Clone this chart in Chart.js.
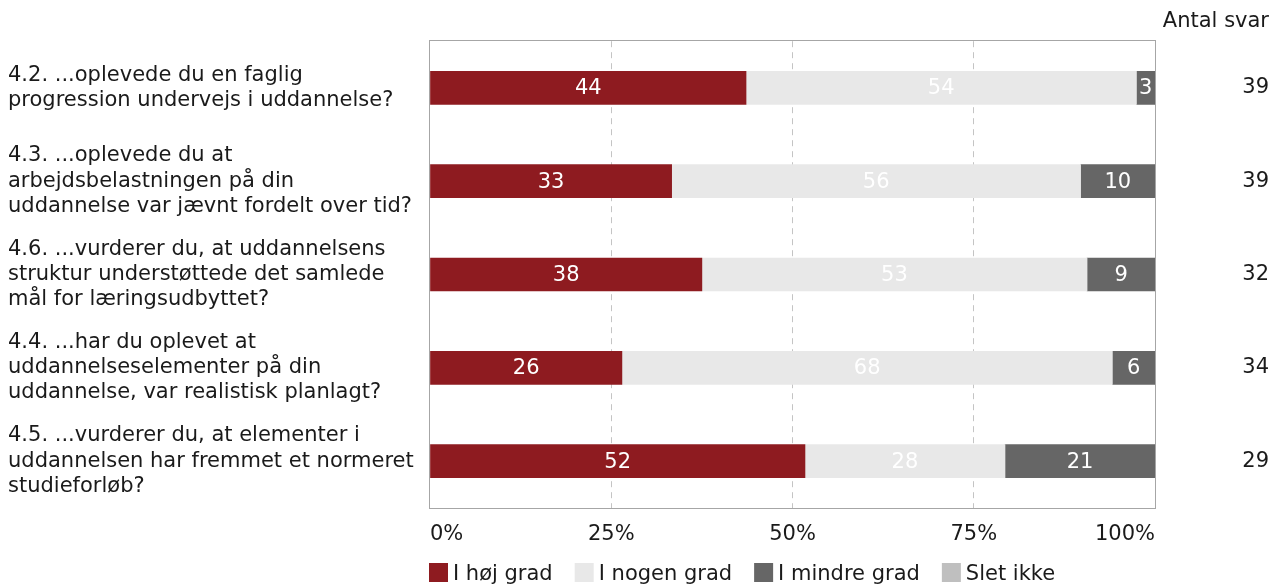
<!DOCTYPE html>
<html lang="da">
<head>
<meta charset="UTF-8">
<title>Studieforløb</title>
<script src="https://cdn.jsdelivr.net/npm/chart.js"></script>
<style>
  html, body { margin: 0; padding: 0; background: #fff; overflow: hidden; }
</style>
</head>
<body>
<canvas id="chart" width="1276" height="584"></canvas>
<script>
const questions = [
  ["4.2. ...oplevede du en faglig", "progression undervejs i uddannelse?"],
  ["4.3. ...oplevede du at", "arbejdsbelastningen på din", "uddannelse var jævnt fordelt over tid?"],
  ["4.6. ...vurderer du, at uddannelsens", "struktur understøttede det samlede", "mål for læringsudbyttet?"],
  ["4.4. ...har du oplevet at", "uddannelseselementer på din", "uddannelse, var realistisk planlagt?"],
  ["4.5. ...vurderer du, at elementer i", "uddannelsen har fremmet et normeret", "studieforløb?"]
];
const hoejGrad   = [43.59, 33.33, 37.5, 26.47, 51.72];
const nogenGrad  = [53.85, 56.41, 53.13, 67.65, 27.59];
const mindreGrad = [2.56, 10.26, 9.38, 5.88, 20.69];
const sletIkke   = [0, 0, 0, 0, 0];
const antalSvar  = ["39", "39", "32", "34", "29"];
const xTicks     = [0, 25, 50, 75, 100];

const FONT = "'DejaVu Sans', Verdana, sans-serif";
const SIZE = 21;
const TEXT = "#1a1a1a";

const barLabels = {
  id: 'barLabels',
  afterDatasetsDraw(chart) {
    const { ctx, chartArea: a } = chart;
    // plot frame
    ctx.save();
    ctx.strokeStyle = "#a6a6a6";
    ctx.lineWidth = 1;
    ctx.strokeRect(Math.round(a.left) - 0.5, Math.round(a.top) - 0.5, Math.round(a.right - a.left) + 1, Math.round(a.bottom - a.top) + 1);
    // values in bars
    ctx.font = SIZE + "px " + FONT;
    ctx.fillStyle = "#fff";
    ctx.textAlign = "center";
    ctx.textBaseline = "middle";
    chart.data.datasets.forEach((ds, i) => {
      chart.getDatasetMeta(i).data.forEach((bar, j) => {
        const v = ds.data[j];
        if (!v) return;
        ctx.fillText(Math.round(v), (bar.x + bar.base) / 2, bar.y + 1);
      });
    });
    ctx.restore();
  },
  afterDraw(chart) {
    const { ctx, chartArea: a } = chart;
    ctx.save();
    ctx.font = SIZE + "px " + FONT;
    ctx.textBaseline = "middle";
    ctx.textAlign = "left";
    let x = a.left - 1;
    const top = 563, box = 19;
    chart.data.datasets.forEach(ds => {
      ctx.fillStyle = ds.backgroundColor;
      ctx.fillRect(x, top, box, box);
      ctx.fillStyle = TEXT;
      ctx.fillText(ds.label, x + box + 5, top + box / 2 + 2);
      x += box + 5 + ctx.measureText(ds.label).width + 22;
    });
    ctx.restore();
  }
};

new Chart(document.getElementById("chart"), {
  type: 'bar',
  data: {
    labels: questions,
    datasets: [
      { label: "I høj grad", data: hoejGrad, backgroundColor: "#8e1b20" },
      { label: "I nogen grad", data: nogenGrad, backgroundColor: "#e8e8e8" },
      { label: "I mindre grad", data: mindreGrad, backgroundColor: "#666666" },
      { label: "Slet ikke", data: sletIkke, backgroundColor: "#bfbfbf" }
    ]
  },
  options: {
    indexAxis: 'y',
    responsive: false,
    animation: false,
    barThickness: 33,
    layout: { padding: { left: 8, right: 7, top: 0, bottom: 23 } },
    plugins: {
      legend: { display: false },
      tooltip: { enabled: false },
      title: {
        display: true, text: "Antal svar", align: 'end', color: TEXT,
        font: { family: FONT, size: SIZE, weight: 'normal' },
        padding: { top: 9, bottom: 7 }
      }
    },
    scales: {
      x: {
        stacked: true, min: 0, max: 100,
        afterBuildTicks: s => { s.ticks = xTicks.map(v => ({ value: v })); },
        ticks: {
          callback: v => v + "%", align: 'inner', padding: 14, color: TEXT,
          font: { family: FONT, size: SIZE }
        },
        grid: {
          drawTicks: false,
          color: c => (c.tick && (c.tick.value === 0 || c.tick.value === 100)) ? "rgba(0,0,0,0)" : "#c4c4c4"
        },
        border: { display: false, dash: [6, 5] }
      },
      y: {
        stacked: true, position: 'left',
        grid: { display: false }, border: { display: false },
        ticks: { crossAlign: 'far', color: TEXT, font: { family: FONT, size: SIZE, lineHeight: 1.2 } },
        afterFit: s => { s.width = 422; }
      },
      y2: {
        type: 'category', labels: antalSvar, position: 'right', offset: true,
        grid: { display: false }, border: { display: false },
        ticks: { crossAlign: 'far', color: TEXT, font: { family: FONT, size: SIZE } },
        afterFit: s => { s.width = 114; }
      }
    }
  },
  plugins: [barLabels]
});
</script>
</body>
</html>
